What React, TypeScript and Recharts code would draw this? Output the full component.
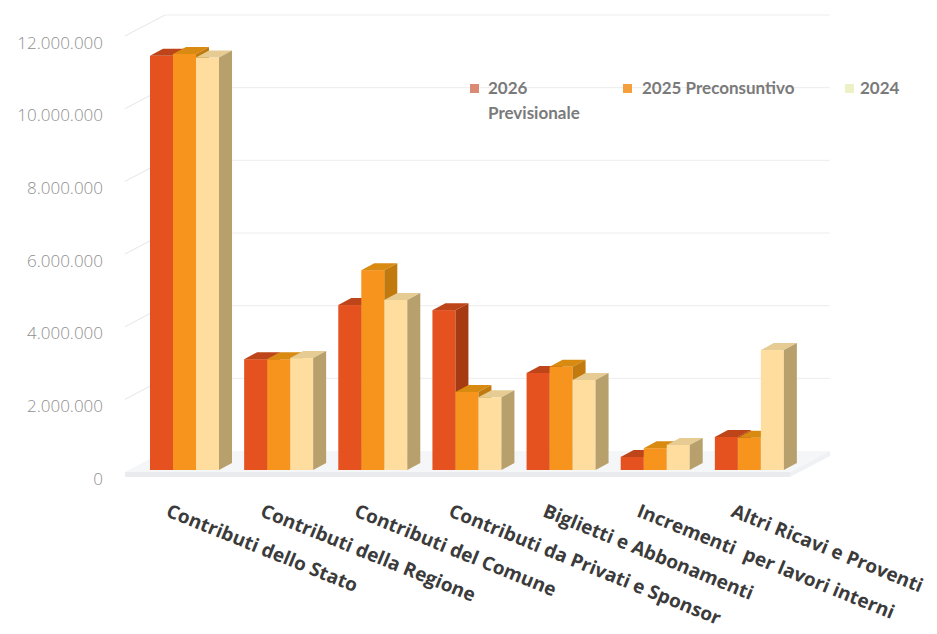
import React from 'react';
import { BarChart, Bar, XAxis, YAxis, CartesianGrid, Legend } from 'recharts';

const categories = [
  'Contributi dello Stato',
  'Contributi della Regione',
  'Contributi del Comune',
  'Contributi da Privati e Sponsor',
  'Biglietti e Abbonamenti',
  'Incrementi  per lavori interni',
  'Altri Ricavi e Proventi',
];
const previsionale2026 = [11400000, 3050000, 4540000, 4400000, 2670000, 360000, 910000];
const preconsuntivo2025 = [11450000, 3050000, 5500000, 2150000, 2840000, 600000, 890000];
const consuntivo2024 = [11350000, 3080000, 4680000, 2000000, 2480000, 690000, 3300000];
const yTicks = [0, 2000000, 4000000, 6000000, 8000000, 10000000, 12000000];
const seriesNames = ['2026 Previsionale', '2025 Preconsuntivo', '2024'];

const data = categories.map((name, i) => ({
  name,
  s2026: previsionale2026[i],
  s2025: preconsuntivo2025[i],
  s2024: consuntivo2024[i],
}));

const fmt = (n: number) => String(n).replace(/\B(?=(\d{3})+(?!\d))/g, '.');

const DX = 13;
const DY = 7;

const makeShape = (front: string, top: string, side: string) => (props: any) => {
  const { x, y, width, height } = props;
  if (width == null || height == null) return <g />;
  const w = width;
  const h = height;
  return (
    <g>
      <rect x={x} y={y} width={w} height={h} fill={front} />
      <polygon
        points={`${x},${y} ${x + DX},${y - DY} ${x + w + DX},${y - DY} ${x + w},${y}`}
        fill={top}
      />
      <polygon
        points={`${x + w},${y} ${x + w + DX},${y - DY} ${x + w + DX},${y + h - DY} ${x + w},${y + h}`}
        fill={side}
      />
    </g>
  );
};

const shape2026 = makeShape('#E5521F', '#BE4519', '#A63A13');
const shape2025 = makeShape('#F7941E', '#D98A10', '#C27A0E');
const shape2024 = makeShape('#FEDD9E', '#E6CC93', '#B8A06C');

const gridLine = (props: any) => {
  const { x1, x2, y1, index } = props;
  const bottom = props.y != null && props.height != null ? props.y + props.height : null;
  const isBottom = bottom != null ? Math.abs(y1 - bottom) < 1 : index === 0;
  const y = y1;
  if (isBottom) {
    return (
      <g key={`g-${index}`}>
        <polygon
          points={`${x1 - 12},${y + 2} ${x1 + 28},${y - 19} ${x2 + 34},${y - 19} ${x2 - 6},${y + 2}`}
          fill="#f5f6f8"
        />
        <polygon
          points={`${x1 - 12},${y + 2} ${x2 - 6},${y + 2} ${x2 - 6},${y + 7} ${x1 - 12},${y + 7}`}
          fill="#e9ebef"
        />
        <polygon
          points={`${x2 - 6},${y + 2} ${x2 + 34},${y - 19} ${x2 + 34},${y - 14} ${x2 - 6},${y + 7}`}
          fill="#eff1f4"
        />
      </g>
    );
  }
  return (
    <g key={`g-${index}`}>
      <line x1={x1 - 12} y1={y + 2} x2={x1 + 28} y2={y - 19} stroke="#e6e6e6" strokeWidth={1} />
      <line x1={x1 + 28} y1={y - 19} x2={x2 + 34} y2={y - 19} stroke="#ededed" strokeWidth={1} />
    </g>
  );
};

const YTick = (props: any) => {
  const { y, payload } = props;
  return (
    <text
      x={95}
      y={y + 8}
      textAnchor="end"
      dominantBaseline="central"
      fontFamily="Open Sans"
      fontWeight={300}
      fontSize={17}
      fill="#8f8f8f"
    >
      {fmt(payload.value)}
    </text>
  );
};

const XTick = (props: any) => {
  const { x, y, payload } = props;
  const ax = x - 19;
  const ay = y + 46;
  return (
    <text
      x={ax}
      y={ay}
      transform={`rotate(22 ${ax} ${ay})`}
      textAnchor="start"
      fontFamily="Open Sans"
      fontWeight={700}
      fontSize={19}
      fill="#3b3b3b"
      style={{ whiteSpace: 'pre' }}
    >
      {payload.value}
    </text>
  );
};

const legendColors = ['#D98B76', '#F4A03E', '#EEF1C6'];

const LegendContent = () => (
  <div
    style={{
      position: 'relative',
      width: 460,
      height: 56,
      fontFamily: 'Lato',
      fontWeight: 700,
      fontSize: 17,
      color: '#7a7a7a',
      lineHeight: '25px',
    }}
  >
    <span style={{ position: 'absolute', left: 7, top: 9, width: 9, height: 9, background: legendColors[0] }} />
    <div style={{ position: 'absolute', left: 25, top: 0, whiteSpace: 'nowrap' }}>
      {seriesNames[0].split(' ')[0]}
      <br />
      {seriesNames[0].split(' ')[1]}
    </div>
    <span style={{ position: 'absolute', left: 160, top: 9, width: 9, height: 9, background: legendColors[1] }} />
    <div style={{ position: 'absolute', left: 179, top: 0, whiteSpace: 'nowrap' }}>{seriesNames[1]}</div>
    <span style={{ position: 'absolute', left: 382, top: 9, width: 9, height: 9, background: legendColors[2] }} />
    <div style={{ position: 'absolute', left: 397, top: 0, whiteSpace: 'nowrap' }}>{seriesNames[2]}</div>
  </div>
);

export default function App() {
  return (
    <div style={{ width: 921, height: 626, marginBottom: -8, background: '#fff' }}>
      <BarChart
        width={921}
        height={626}
        data={data}
        margin={{ top: 26, right: 133, bottom: 0, left: 0 }}
        barGap={0}
        barSize={23}
      >
        <CartesianGrid vertical={false} horizontal={gridLine} stroke="#ececec" />
        <XAxis
          dataKey="name"
          axisLine={false}
          tickLine={false}
          tickSize={0}
          tickMargin={0}
          height={164}
          interval={0}
          tick={<XTick />}
        />
        <YAxis
          width={129}
          domain={[0, 12000000]}
          ticks={yTicks}
          axisLine={false}
          tickLine={false}
          tick={<YTick />}
          interval={0}
        />
        <Legend
          layout="horizontal"
          verticalAlign="middle"
          align="center"
          content={<LegendContent />}
          wrapperStyle={{ position: 'absolute', top: 67, left: 455, width: 460, height: 56 }}
        />
        <Bar dataKey="s2026" name={seriesNames[0]} fill="#E5521F" shape={shape2026} isAnimationActive={false} />
        <Bar dataKey="s2025" name={seriesNames[1]} fill="#F7941E" shape={shape2025} isAnimationActive={false} />
        <Bar dataKey="s2024" name={seriesNames[2]} fill="#FEDD9E" shape={shape2024} isAnimationActive={false} />
      </BarChart>
    </div>
  );
}
